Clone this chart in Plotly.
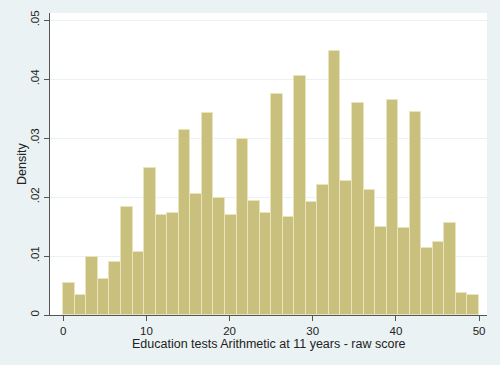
import plotly.graph_objects as go

bin_start = 0.0
bin_width = 50.0 / 36
density = [0.00535, 0.00343, 0.00975, 0.00614, 0.00896, 0.01838, 0.01071, 0.02492,
           0.01690, 0.01731, 0.03140, 0.02052, 0.03428, 0.01985, 0.01702, 0.02988,
           0.01927, 0.01731, 0.03748, 0.01656, 0.04054, 0.01917, 0.02210, 0.04477,
           0.02270, 0.03592, 0.02113, 0.01499, 0.03653, 0.01482, 0.03445, 0.01144,
           0.01234, 0.01561, 0.00365, 0.00343]
x_ticks = [0, 10, 20, 30, 40, 50]
x_labels = ["0", "10", "20", "30", "40", "50"]
y_ticks = [0, 0.01, 0.02, 0.03, 0.04, 0.05]
y_labels = ["0", ".01", ".02", ".03", ".04", ".05"]
x_title = "Education tests Arithmetic at 11 years - raw score"
y_title = "Density"

centers = [bin_start + bin_width * (i + 0.5) for i in range(len(density))]

fig = go.Figure(go.Bar(
    x=centers, y=density, width=[bin_width] * len(density),
    marker=dict(color="#C9C07E", line=dict(color="#E9E4BC", width=1)),
))

fig.update_layout(
    width=500, height=365,
    margin=dict(l=50, r=13, t=13, b=50),
    paper_bgcolor="#EAF2F3", plot_bgcolor="#FFFFFF",
    font=dict(family="Liberation Sans, Arial, sans-serif", size=12, color="#222"),
    showlegend=False, bargap=0,
    annotations=[
        dict(text=x_title, xref="paper", yref="paper", x=0.5, y=0,
             xanchor="center", yanchor="middle", yshift=-29, showarrow=False,
             font=dict(size=12.5)),
        dict(text=y_title, xref="paper", yref="paper", x=0, y=0.5,
             xanchor="center", yanchor="middle", xshift=-28, textangle=-90,
             showarrow=False, font=dict(size=12.5)),
    ],
)
fig.update_xaxes(
    range=[-1.6, 50.96], tickvals=x_ticks, ticktext=x_labels,
    showgrid=False, zeroline=False, automargin=False,
    showline=True, linecolor="#555", linewidth=1,
    ticks="outside", ticklen=5, tickcolor="#555", tickfont=dict(size=11.5),
)
fig.update_yaxes(
    range=[0, 0.0512], tickvals=y_ticks, ticktext=y_labels, tickangle=-90,
    showgrid=True, gridcolor="#EAF2F3", gridwidth=1, zeroline=False, automargin=False,
    showline=True, linecolor="#555", linewidth=1,
    ticks="outside", ticklen=5, tickcolor="#555", tickfont=dict(size=11.5),
)

fig.write_html("out.html", config={"displayModeBar": False},
               post_script="document.body.style.margin='0';document.body.style.background='#EAF2F3';")
